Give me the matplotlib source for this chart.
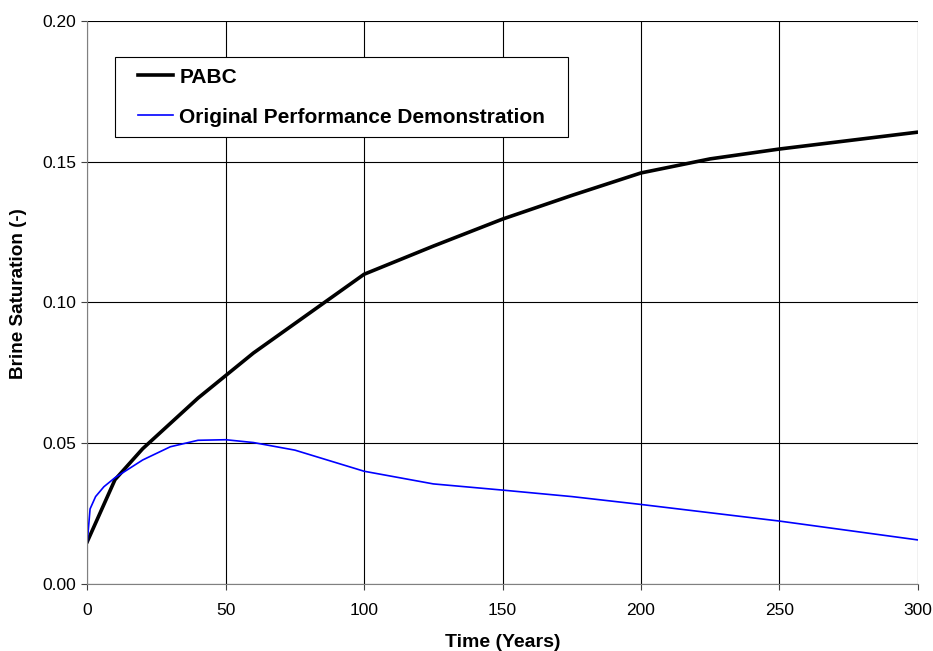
import matplotlib
matplotlib.use("Agg")
import matplotlib.pyplot as plt
from matplotlib.ticker import FormatStrFormatter
from matplotlib.legend_handler import HandlerLine2D
from matplotlib.lines import Line2D

plt.rcParams['font.family'] = ['Liberation Sans', 'DejaVu Sans']

pabc_t = [0, 10, 20, 30, 40, 50, 60, 70, 80, 90, 100, 125, 150, 175, 200, 225, 250, 275, 300]
pabc_s = [0.015, 0.037, 0.048, 0.057, 0.066, 0.074, 0.082, 0.089, 0.096, 0.103, 0.110,
          0.120, 0.1296, 0.138, 0.146, 0.151, 0.1545, 0.1575, 0.1605]

opd_t = [0, 1, 3, 6, 10, 20, 30, 40, 50, 60, 75, 100, 125, 150, 175, 200, 250, 300]
opd_s = [0.015, 0.0266, 0.031, 0.0345, 0.0377, 0.0440, 0.0487, 0.0510, 0.0512, 0.0502,
         0.0475, 0.0400, 0.0355, 0.0333, 0.0310, 0.0282, 0.0223, 0.0156]

fig = plt.figure(figsize=(9.33, 6.51), dpi=100)
ax = fig.add_axes([87.3/933, 1 - 583.8/651, (917.7-87.3)/933, (583.8-21)/651])

ax.plot(pabc_t, pabc_s, color='black', lw=2.6, label='PABC', solid_joinstyle='round')
ax.plot(opd_t, opd_s, color='#0000FF', lw=1.2, label='Original Performance Demonstration')

ax.set_xlim(0, 300)
ax.set_ylim(0, 0.20)
ax.set_xticks([0, 50, 100, 150, 200, 250, 300])
ax.set_yticks([0.00, 0.05, 0.10, 0.15, 0.20])
ax.yaxis.set_major_formatter(FormatStrFormatter('%.2f'))
ax.grid(True, color='black', lw=0.8)
ax.set_axisbelow(True)
for s in ax.spines.values():
    s.set_visible(False)
ax.spines['left'].set_visible(True)
ax.spines['bottom'].set_visible(True)
ax.spines['left'].set_color('#808080')
ax.spines['bottom'].set_color('#808080')
ax.tick_params(axis='both', direction='out', length=4.5, width=0.8, color='#404040',
               labelsize=12.5, pad=3.6)
ax.tick_params(axis='x', pad=9)

ax.set_xlabel('Time (Years)', fontsize=14, fontweight='bold', labelpad=11.5)
ax.set_ylabel('Brine Saturation (-)', fontsize=13.6, fontweight='bold')
ax.yaxis.set_label_coords((27.0 - 87.3) / 830.4, (583.8 - 294) / 562.8)

fs = 15
hmap = {Line2D: HandlerLine2D(xpad=0.61)}
x0 = (115 - 87.3) / 830.4
x1 = (567.7 - 87.3) / 830.4
ytop = 1 - (57.3 - 21) / 562.8
leg = ax.legend(loc='upper left', bbox_to_anchor=(x0, ytop - 0.3, x1 - x0, 0.3),
                mode='expand', prop={'weight': 'bold', 'size': fs},
                frameon=True, fancybox=False, edgecolor='black', framealpha=1,
                handlelength=2.29, handletextpad=0.3, borderpad=0.5, labelspacing=1.0,
                borderaxespad=0, handler_map=hmap)
leg.get_frame().set_linewidth(0.8)

fig.savefig('out.png', dpi=100)
